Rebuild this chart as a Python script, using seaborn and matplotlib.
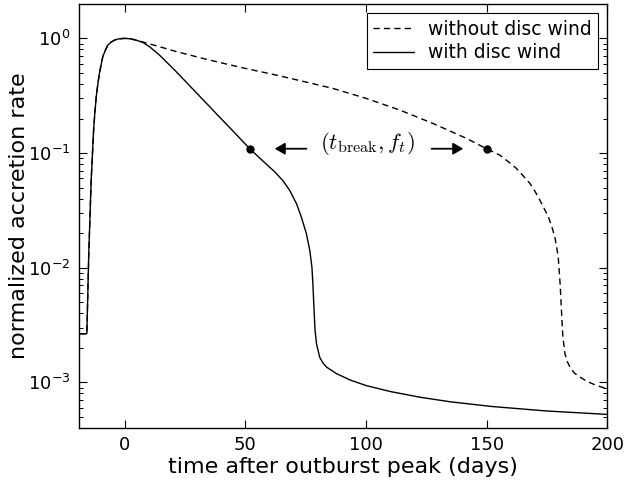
import numpy as np
import pandas as pd
import matplotlib

matplotlib.use('Agg')

import matplotlib.pyplot as plt
import seaborn as sns

sns.set_style("ticks", {'axes.edgecolor': 'k', 'text.color': 'k',
                        'axes.labelcolor': 'k', 'xtick.color': 'k',
                        'ytick.color': 'k'})
plt.rcParams['font.family'] = ['DejaVu Sans']
plt.rcParams['lines.dashed_pattern'] = [4.5, 3.0]

# rise is common to both runs
t_rise = [-19, -15.7, -14.9, -13.9, -12.9, -12.4, -11.8, -11.1, -10.5, -9.8,
          -9.1, -8.1, -7.0, -5.6, -4.2, -2.9, -1.5, 0]
f_rise = [0.00265, 0.00265, 0.01324, 0.0578, 0.158, 0.221, 0.309, 0.405,
          0.494, 0.585, 0.692, 0.780, 0.873, 0.929, 0.966, 0.986, 0.995, 1.0]

# without disc wind (after peak)
t_nowind = [3, 6.2, 14, 21.4, 35.2, 49, 62.9, 74.5, 86.3, 100.2, 114, 127.8,
            141.7, 150, 155.6, 159, 162.4, 165.2, 168, 170.1, 172.1, 174,
            175.6, 177, 178.3, 179.7, 180.5, 181.1, 181.6, 182.5, 183.5,
            184.6, 186.5, 188.7, 192, 195.6, 200]
f_nowind = [0.986, 0.946, 0.851, 0.767, 0.646, 0.553, 0.478, 0.419, 0.366,
            0.299, 0.237, 0.181, 0.134, 0.109, 0.0955, 0.0841, 0.0733,
            0.0631, 0.0542, 0.0462, 0.0387, 0.0324, 0.0277, 0.0229, 0.0185,
            0.0124, 0.00708, 0.00398, 0.00251, 0.00177, 0.00151, 0.00135,
            0.0012, 0.00111, 0.00101, 0.000938, 0.000877]

# with disc wind (after peak)
t_wind = [2, 4.5, 7.5, 10.3, 14.4, 17.9, 21.4, 24.8, 28.3, 31.7, 35.2, 38.6,
          42.1, 45.6, 49, 51.8, 55.2, 58.7, 62.2, 65.6, 68.4, 71.2, 73.2,
          75.3, 76.7, 77.6, 78.0, 78.3, 78.6, 78.9, 79.5, 80.8, 82.1, 83.6,
          87.8, 93.3, 100, 110, 122.4, 135, 152.3, 175, 200]
f_wind = [0.993, 0.968, 0.923, 0.845, 0.715, 0.605, 0.511, 0.430, 0.360,
          0.303, 0.254, 0.213, 0.179, 0.150, 0.126, 0.109, 0.0935, 0.0800,
          0.0685, 0.0573, 0.0472, 0.0362, 0.0277, 0.0198, 0.0142, 0.0101,
          0.00724, 0.00518, 0.0038, 0.00282, 0.00217, 0.00166, 0.00148,
          0.00136, 0.00119, 0.00105, 0.000938, 0.000832, 0.000741,
          0.000676, 0.000615, 0.000562, 0.000525]

# break points
t_break = [51.8, 150]
f_break = [0.109, 0.109]

df_nowind = pd.DataFrame({'t': t_rise + t_nowind, 'f': f_rise + f_nowind})
df_wind = pd.DataFrame({'t': t_rise + t_wind, 'f': f_rise + f_wind})

fig, ax = plt.subplots(figsize=(6.26, 4.83), dpi=100)
fig.subplots_adjust(left=0.126, right=0.970, top=0.992, bottom=0.114)

sns.lineplot(data=df_nowind, x='t', y='f', ax=ax, color='k', lw=1.0,
             linestyle='--', estimator=None, sort=False,
             label='without disc wind')
sns.lineplot(data=df_wind, x='t', y='f', ax=ax, color='k', lw=1.0,
             estimator=None, sort=False, label='with disc wind')
ax.plot(t_break, f_break, 'o', color='k', ms=5, zorder=5)

ax.set_yscale('log')
ax.set_xlim(-19, 200)
ax.set_ylim(4e-4, 2)
ax.set_xticks([0, 50, 100, 150, 200])

ax.text(100.5, 0.121, r'$(t_{\rm break}, f_t)$', ha='center', va='center',
        fontsize=16.5, math_fontfamily='cm')
arrow = dict(arrowstyle='-|>,head_length=0.6,head_width=0.35', color='k',
             lw=1.3, mutation_scale=10, shrinkA=0, shrinkB=0)
ax.annotate('', xy=(62.2, 0.109), xytext=(75.3, 0.109), arrowprops=arrow)
ax.annotate('', xy=(140.3, 0.109), xytext=(127.2, 0.109), arrowprops=arrow)

ax.set_xlabel('time after outburst peak (days)', fontsize=16, labelpad=2)
ax.set_ylabel('normalized accretion rate', fontsize=16, labelpad=-1)

ax.tick_params(which='both', direction='in', top=True, right=True,
               labelsize=13, color='k', labelcolor='k')
ax.tick_params(which='major', length=5.5, width=0.8, pad=6)
ax.tick_params(which='minor', length=3, width=0.7)
ax.tick_params(axis='x', which='minor', top=False, bottom=False)
for s in ax.spines.values():
    s.set_linewidth(1.0)
    s.set_color('k')

leg = ax.legend(loc='upper right', fontsize=13.5, fancybox=False,
                framealpha=1, edgecolor='k', labelspacing=0.25,
                handlelength=2.2, handletextpad=0.7, borderpad=0.35)
leg.get_frame().set_linewidth(0.8)

plt.savefig('out.png', dpi=100)
